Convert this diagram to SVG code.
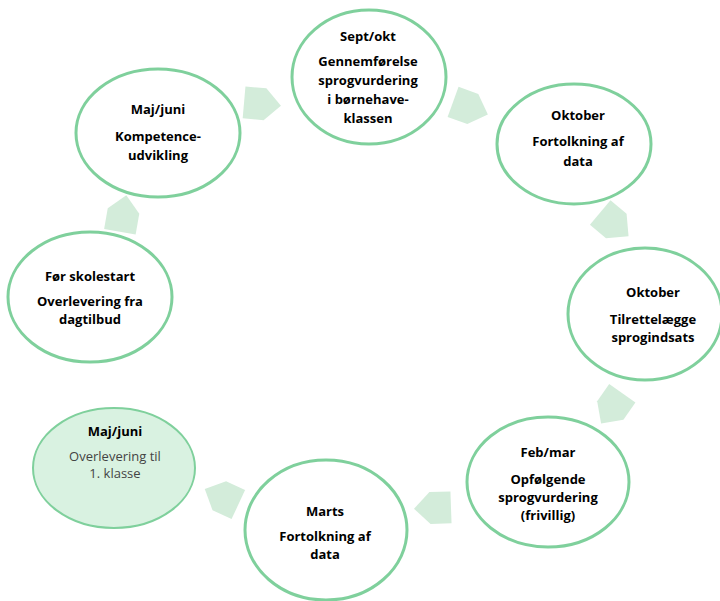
<svg xmlns="http://www.w3.org/2000/svg" width="720" height="601" viewBox="0 0 720 601">
<style>
.c{fill:#ffffff;stroke:#7fd09c;stroke-width:3}
.cf{fill:#d9f2e1;stroke:#7fd09c;stroke-width:2}
.a{fill:#d3ecda}
text{font-family:"Open Sans","Noto Sans","Liberation Sans",sans-serif;font-size:13px;text-anchor:middle;fill:#000}
.t{font-weight:bold}
.b{font-weight:bold}
.g{fill:#444;font-weight:normal;font-size:13px}
</style>
<defs>
<path id="arr" d="M-18,-16 L3,-16 L19,0 L3,16 L-18,16 Z"/>
</defs>
<g id="connectors">
<use href="#arr" class="a" transform="translate(262,104) rotate(5)"/>
<use href="#arr" class="a" transform="translate(470,108) rotate(20)"/>
<use href="#arr" class="a" transform="translate(614,224) rotate(40)"/>
<use href="#arr" class="a" transform="translate(612,408) rotate(125)"/>
<use href="#arr" class="a" transform="translate(433,508) rotate(178)"/>
<use href="#arr" class="a" transform="translate(222,497) rotate(205)"/>
<use href="#arr" class="a" transform="translate(123,214) rotate(-80)"/>
</g>
<g id="n1">
<ellipse class="c" cx="369" cy="77" rx="77" ry="67"/>
<text class="t" x="368" y="41">Sept/okt</text>
<text class="b" x="368" y="66">Gennemførelse</text>
<text class="b" x="368" y="85">sprogvurdering</text>
<text class="b" x="368" y="104">i børnehave-</text>
<text class="b" x="368" y="123">klassen</text>
</g>
<g id="n2">
<ellipse class="c" cx="158" cy="133" rx="82" ry="64"/>
<text class="t" x="158" y="114">Maj/juni</text>
<text class="b" x="158" y="141">Kompetence-</text>
<text class="b" x="158" y="160">udvikling</text>
</g>
<g id="n3">
<ellipse class="c" cx="574" cy="144" rx="77" ry="60"/>
<text class="t" x="578" y="120">Oktober</text>
<text class="b" x="578" y="146">Fortolkning af</text>
<text class="b" x="578" y="166">data</text>
</g>
<g id="n4">
<ellipse class="c" cx="90" cy="297" rx="82" ry="65"/>
<text class="t" x="90" y="281">Før skolestart</text>
<text class="b" x="90" y="306">Overlevering fra</text>
<text class="b" x="90" y="324">dagtilbud</text>
</g>
<g id="n5">
<ellipse class="c" cx="645" cy="314" rx="77" ry="66"/>
<text class="t" x="653" y="297">Oktober</text>
<text class="b" x="653" y="324">Tilrettelægge</text>
<text class="b" x="653" y="342">sprogindsats</text>
</g>
<g id="n6">
<ellipse class="cf" cx="114" cy="468" rx="81" ry="60"/>
<text class="t" x="115" y="436">Maj/juni</text>
<text class="g" x="115" y="461">Overlevering til</text>
<text class="g" x="115" y="478">1. klasse</text>
</g>
<g id="n7">
<ellipse class="c" cx="548" cy="482" rx="81" ry="65"/>
<text class="t" x="548" y="457">Feb/mar</text>
<text class="b" x="548" y="484">Opfølgende</text>
<text class="b" x="548" y="502">sprogvurdering</text>
<text class="b" x="548" y="520">(frivillig)</text>
</g>
<g id="n8">
<ellipse class="c" cx="326" cy="530" rx="81" ry="70"/>
<text class="t" x="325" y="516">Marts</text>
<text class="b" x="325" y="541">Fortolkning af</text>
<text class="b" x="325" y="559">data</text>
</g>
</svg>
